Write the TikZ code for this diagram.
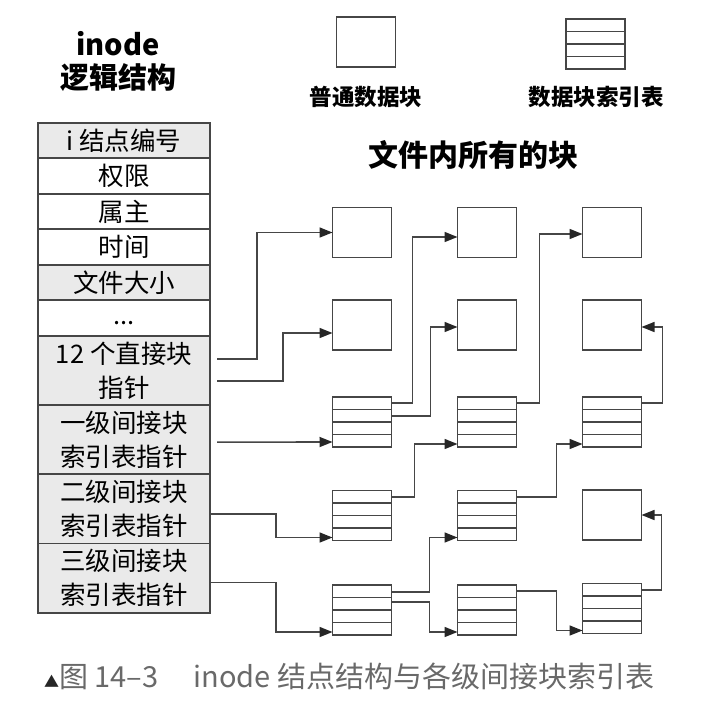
\documentclass[tikz,border=0pt]{standalone}
\usepackage{fontspec}
\setmainfont{Noto Sans CJK SC}
\usetikzlibrary{arrows.meta,positioning,calc}
\definecolor{linegray}{RGB}{70,70,70}
\definecolor{cellgray}{RGB}{234,234,234}
\definecolor{capgray}{RGB}{105,105,105}

\begin{document}
\begin{tikzpicture}[x=1pt,y=-1pt,
  field/.style={draw=linegray,line width=1.6pt,minimum width=172pt,minimum height=35.5pt,inner sep=0pt,outer sep=0pt,align=center,font=\fontsize{25.5}{34}\selectfont},
  tallfield/.style={field,fill=cellgray,minimum height=69.25pt},
  plainblk/.style={draw=linegray,line width=1.6pt,minimum width=59pt,minimum height=50pt,inner sep=0pt,outer sep=0pt},
  idxblk/.style={plainblk,path picture={\foreach \f in {.25,.5,.75}{\draw[linegray,line width=1.4pt] ($(path picture bounding box.north west)!\f!(path picture bounding box.south west)$) -- ($(path picture bounding box.north east)!\f!(path picture bounding box.south east)$);}}},
  arr/.style={draw=linegray,line width=1.6pt,-{Triangle[length=13pt,width=10pt,fill=black!85,color=black!85]}}]
\useasboundingbox (0,0) rectangle (717,705);

% titles and legend
\node[align=center,font=\fontsize{29}{33}\selectfont\bfseries] (title) at (118,61) {inode\\逻辑结构};
\node[plainblk] (lgplain) at (366,42) {};
\node[idxblk] (lgidx) at (595.5,44) {};
\node[font=\fontsize{22.5}{26}\selectfont\bfseries] (lgplaintxt) at (366,97) {普通数据块};
\node[font=\fontsize{22.5}{26}\selectfont\bfseries] (lgidxtxt) at (596,97) {数据块索引表};
\node[font=\fontsize{30}{33}\selectfont\bfseries] (alltitle) at (473,155) {文件内所有的块};

% inode table
\node[field,fill=cellgray] (num) at (124,140.5) {i 结点编号};
\node[field,below=0pt of num] (perm) {权限};
\node[field,below=0pt of perm] (owner) {属主};
\node[field,below=0pt of owner] (time) {时间};
\node[field,fill=cellgray,below=0pt of time] (size) {文件大小};
\node[field,below=0pt of size] (dots) {\raisebox{-6pt}[0pt][0pt]{...}};
\node[tallfield,below=0pt of dots] (direct) {12 个直接块\\指针};
\node[tallfield,below=0pt of direct] (ind1) {一级间接块\\索引表指针};
\node[tallfield,below=0pt of ind1] (ind2) {二级间接块\\索引表指针};
\node[tallfield,below=0pt of ind2] (ind3) {三级间接块\\索引表指针};

% blocks of the file
\foreach \n/\x/\y in {r1c1/362/232.5,r1c2/487/232.5,r1c3/612/232.5,r2c1/362/325,r2c2/487/325,r2c3/612/325,r4c3/612/515}
  \node[plainblk] (\n) at (\x,\y) {};
\foreach \n/\x/\y in {r3c1/362/422,r3c2/487/422,r3c3/612/422,r4c1/362/515.5,r4c2/487/515.5,r5c1/362/610,r5c2/487/610,r5c3/612/608.5}
  \node[idxblk] (\n) at (\x,\y) {};

% pointers from the inode
\draw[arr] ($(direct.east)+(7,-11.5)$) -- ++(40,0) |- (r1c1.west);
\draw[arr] ($(direct.east)+(7,10.5)$) -- ++(66,0) |- ($(r2c1.west)+(0,8)$);
\draw[arr] ($(ind1.east)+(7,2.5)$) -- ($(r3c1.west)+(0,20)$);
\draw[arr] ($(ind2.east)+(0,5)$) -- ++(66,0) |- ($(r4c1.south west)+(0,-3)$);
\draw[arr] ($(ind3.east)+(0,4.5)$) -- ++(66,0) |- ($(r5c1.south west)+(0,-3)$);

% pointers from the index tables
\draw[arr] ($(r3c1.north east)!.125!(r3c1.south east)$) -- ++(21,0) |- ($(r1c2.west)+(0,4.5)$);
\draw[arr] ($(r3c1.north east)!.375!(r3c1.south east)$) -- ++(39,0) |- ($(r2c2.west)+(0,2)$);
\draw[arr] ($(r3c2.north east)!.125!(r3c2.south east)$) -- ++(23,0) |- ($(r1c3.west)+(0,1.5)$);
\draw[arr] ($(r3c3.north east)!.125!(r3c3.south east)$) -- ++(21,0) |- ($(r2c3.east)+(0,2)$);
\draw[arr] ($(r4c1.north east)!.125!(r4c1.south east)$) -- ++(23,0) |- ($(r3c2.south west)+(0,-3)$);
\draw[arr] ($(r5c1.north east)!.14!(r5c1.south east)$) -- ++(38,0) |- ($(r4c2.south west)+(0,-3)$);
\draw[arr] ($(r5c1.north east)!.34!(r5c1.south east)$) -- ++(38,0) |- ($(r5c2.south west)+(0,-3)$);
\draw[arr] ($(r4c2.north east)!.125!(r4c2.south east)$) -- ++(40,0) |- ($(r3c3.south west)+(0,-3)$);
\draw[arr] ($(r5c2.north east)!.125!(r5c2.south east)$) -- ++(40,0) |- ($(r5c3.south west)+(0,-3)$);
\draw[arr] ($(r5c3.north east)!.125!(r5c3.south east)$) -- ++(20,0) |- (r4c3.east);

% caption
\node[anchor=west,text=capgray,font=\fontsize{29}{32}\selectfont,inner sep=0pt] (caption) at (44,676) {{\color{black!85}\fontsize{15}{16}\selectfont▲}图 14–3\hspace{35pt}inode 结点结构与各级间接块索引表};
\end{tikzpicture}
\end{document}
